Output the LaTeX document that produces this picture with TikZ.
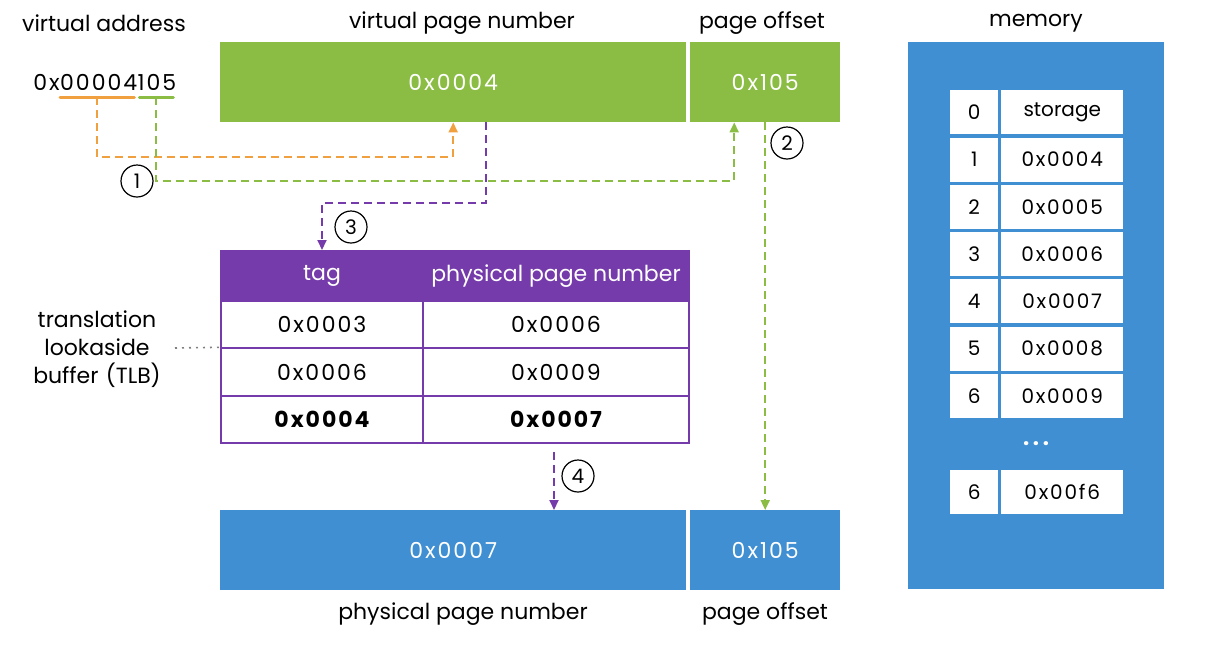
\documentclass[tikz,border=0pt]{standalone}
\usepackage{fontspec}
\setmainfont{Poppins}
\usetikzlibrary{arrows.meta,positioning}
\definecolor{vgreen}{RGB}{139,189,69}
\definecolor{pblue}{RGB}{63,143,210}
\definecolor{tlbpurple}{RGB}{117,59,170}
\definecolor{vorange}{RGB}{241,160,64}
\newcommand{\txt}{\fontsize{22}{28}\selectfont}
\newcommand{\memtxt}{\fontsize{20}{24}\selectfont}
\newcommand{\hex}[1]{{\addfontfeature{LetterSpace=9}#1}}
\tikzset{
  lbl/.style={font=\txt, align=center},
  block/.style={anchor=north west, text=white, inner sep=0pt, minimum height=80pt, font=\txt},
  cell/.style={draw=tlbpurple, line width=2pt, anchor=north west, inner sep=0pt, minimum height=47.3pt, font=\txt},
  memcell/.style={fill=white, anchor=north west, inner sep=0pt, minimum height=44pt, font=\memtxt},
  flow/.style={dashed, dash pattern=on 8pt off 5pt, line width=1.9pt, -{Triangle[length=10pt,width=9pt]}},
  num/.style={circle, draw, line width=1.2pt, minimum size=32pt, inner sep=0pt, font=\fontsize{20}{20}\selectfont},
}
\begin{document}
\begin{tikzpicture}[x=1pt,y=-1pt]
    \useasboundingbox (0,0) rectangle (1209,646);
    % virtual address
    \node[lbl] (valbl) at (104,23) {virtual address};
    \node[font=\txt, inner sep=0pt, anchor=base east] (pre) at (60,90) {\hex{0x}};
    \node[font=\txt, inner sep=0pt, anchor=base west] (hi) at (pre.base east) {\hex{00004}};
    \node[font=\txt, inner sep=0pt, anchor=base west] (lo) at (hi.base east) {\hex{105}};
    \draw[vorange, line width=3pt, line cap=round] ([yshift=-7pt]hi.base west) -- ([xshift=-3pt,yshift=-7pt]hi.base east) coordinate[pos=0.5] (hiline);
    \draw[vgreen, line width=3pt, line cap=round] ([xshift=2pt,yshift=-7pt]lo.base west) -- ([xshift=-3pt,yshift=-7pt]lo.base east) coordinate[pos=0.5] (loline);
    % virtual page
    \node[block, fill=vgreen, minimum width=466pt] (vpn) at (220,42) {\hex{0x0004}};
    \node[block, fill=vgreen, minimum width=150pt] (voff) at (690,42) {\hex{0x105}};
    \node[lbl] at (462,23) {virtual page number};
    \node[lbl] at (762,23) {page offset};
    % physical page
    \node[block, fill=pblue, minimum width=466pt] (ppn) at (220,510) {\hex{0x0007}};
    \node[block, fill=pblue, minimum width=150pt] (poff) at (690,510) {\hex{0x105}};
    \node[lbl] at (463,614) {physical page number};
    \node[lbl] at (765,614) {page offset};
    % TLB
    \node[cell, fill=tlbpurple, text=white, minimum width=202pt, minimum height=50pt] (tag) at (220,250) {tag};
    \node[cell, fill=tlbpurple, text=white, minimum width=266pt, minimum height=50pt] (phys) at (422,250) {physical page number};
    \foreach \t/\p [count=\k] in {0x0003/0x0006, 0x0006/0x0009} {
        \node[cell, minimum width=202pt] (tag\k) at (220,{300+47.3*(\k-1)}) {\hex{\t}};
        \node[cell, minimum width=266pt] (phys\k) at (422,{300+47.3*(\k-1)}) {\hex{\p}};
    }
    \node[cell, minimum width=202pt, font=\txt\bfseries] (tag3) at (220,394.6) {\hex{0x0004}};
    \node[cell, minimum width=266pt, font=\txt\bfseries] (phys3) at (422,394.6) {\hex{0x0007}};
    \node[lbl, text width=160pt] (tlblbl) at (97,349) {translation\\lookaside\\buffer (TLB)};
    \draw[gray, line width=1.6pt, dash pattern=on 2pt off 5pt] (175,348) -- (tag2.north west);
    % memory
    \node[fill=pblue, anchor=north west, minimum width=256pt, minimum height=547pt, inner sep=0pt] (mem) at (908,42) {};
    \node[lbl] at (1036,23) {memory};
    \foreach \i/\v [count=\k from 0] in {0/storage,1/\hex{0x0004},2/\hex{0x0005},3/\hex{0x0006},4/\hex{0x0007},5/\hex{0x0008},6/\hex{0x0009}} {
        \node[memcell, minimum width=48pt] (idx\k) at (950,{90+47.3*\k}) {\i};
        \node[memcell, minimum width=122pt] (val\k) at (1001,{90+47.3*\k}) {\v};
    }
    \node[text=white, font=\fontsize{22}{22}\selectfont\bfseries] (dots) at (1036,444) {.\,.\,.};
    \node[memcell, minimum width=48pt] (idx7) at (950,470) {6};
    \node[memcell, minimum width=122pt] (val7) at (1001,470) {\hex{0x00f6}};
    % flows
    \draw[flow, vorange] (hiline) -- ++(0,60) -| (vpn.south);
    \draw[flow, vgreen] (loline) -- ++(0,84) -| ([xshift=-31pt]voff.south);
    \draw[flow, tlbpurple] ([xshift=33pt]vpn.south) -- ++(0,81) -| (tag.north);
    \draw[flow, vgreen] (voff.south) -- (poff.north);
    \draw[flow, tlbpurple] ([xshift=-2pt,yshift=-8pt]phys3.south) -- ([xshift=-2pt]phys3.south |- ppn.north);
    % steps
    \node[num] (s1) at (137,181) {1};
    \node[num] (s2) at (787,143) {2};
    \node[num] (s3) at (351,227) {3};
    \node[num] (s4) at (578,476) {4};
\end{tikzpicture}
\end{document}
